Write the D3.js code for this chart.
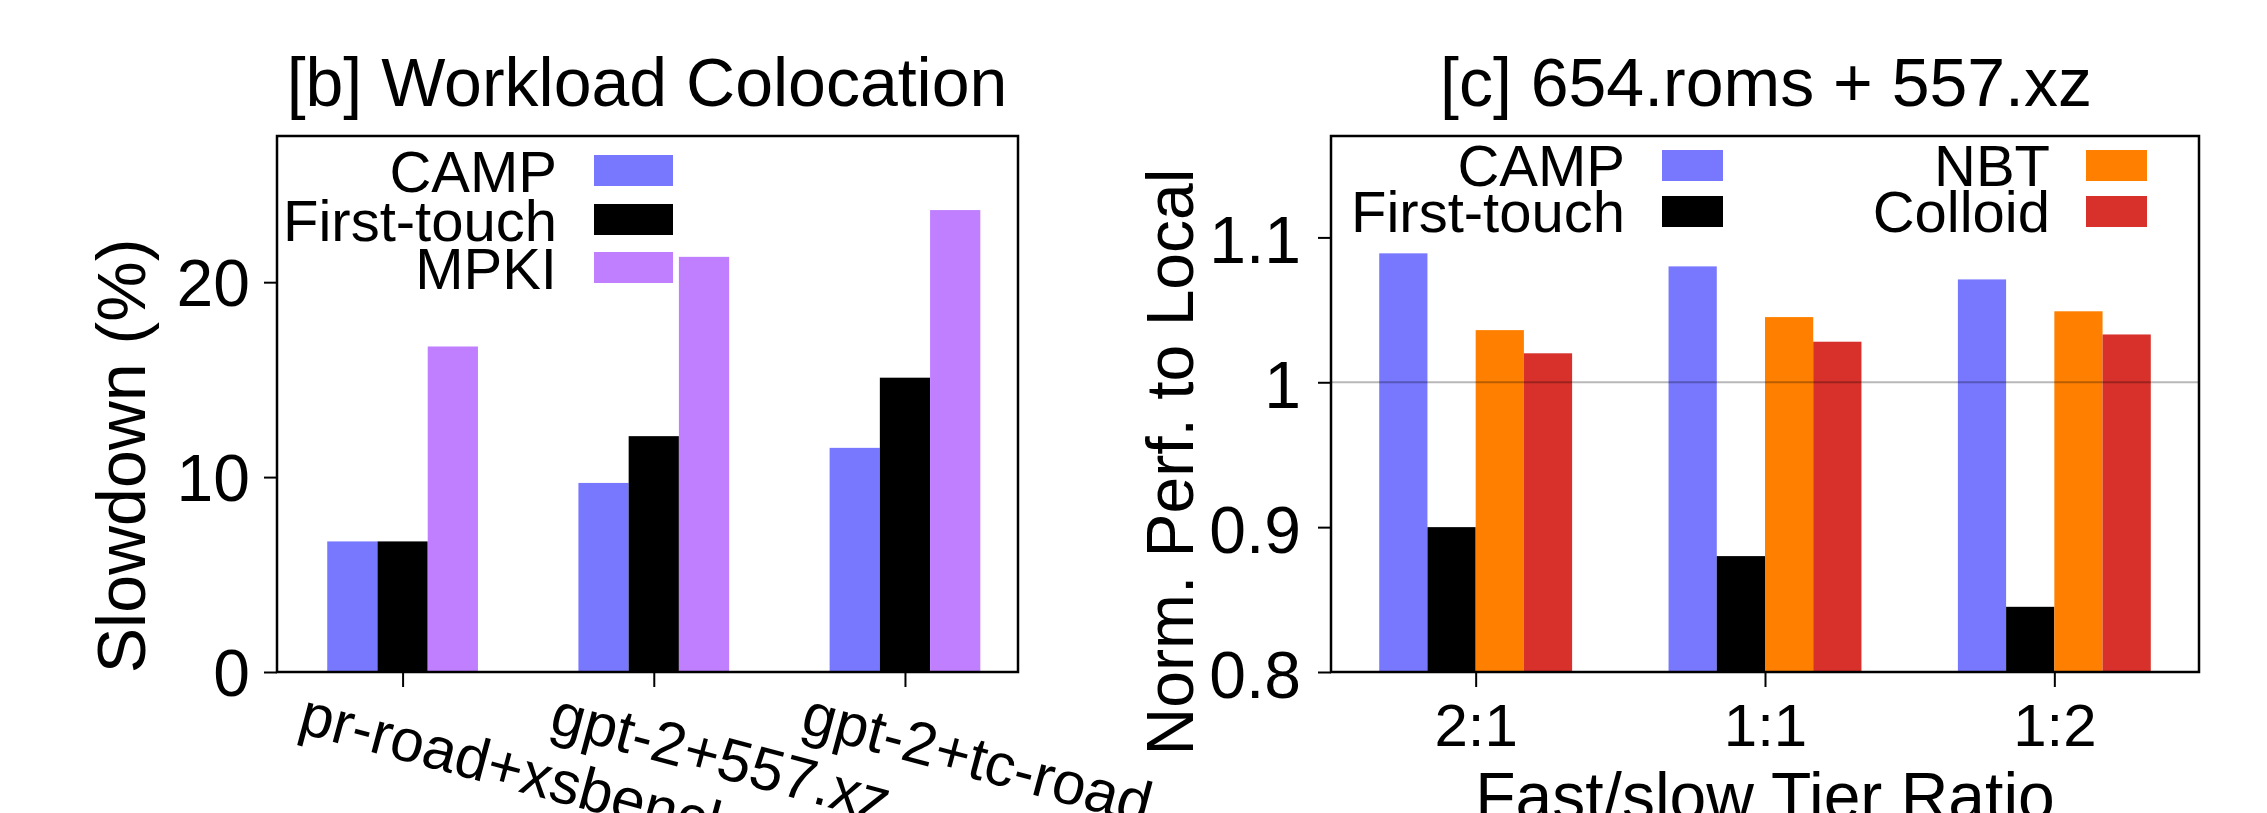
<!DOCTYPE html>
<html>
<head>
<meta charset="utf-8">
<script src="https://cdn.jsdelivr.net/npm/d3@7"></script>
<style>
  html, body { margin: 0; padding: 0; background: #fff; }
  svg { display: block; }
  text { font-family: "Liberation Sans", Arial, Helvetica, sans-serif; fill: #000; }
</style>
</head>
<body>
<script>
// ---------- data: panel [b] ----------
const colocCategories = ["pr-road+xsbench", "gpt-2+557.xz", "gpt-2+tc-road"];
const colocSeries = ["CAMP", "First-touch", "MPKI"];
const campSlowdown = [6.7, 9.7, 11.5];
const firstTouchSlowdown = [6.7, 12.1, 15.1];
const mpkiSlowdown = [16.7, 21.3, 23.7];
const colocYTicks = [0, 10, 20];

// ---------- data: panel [c] ----------
const ratioCategories = ["2:1", "1:1", "1:2"];
const perfSeries = ["CAMP", "First-touch", "NBT", "Colloid"];
const campPerf = [1.089, 1.080, 1.071];
const firstTouchPerf = [0.900, 0.880, 0.845];
const nbtPerf = [1.036, 1.045, 1.049];
const colloidPerf = [1.020, 1.028, 1.033];
const perfYTicks = [0.8, 0.9, 1.0, 1.1];
const perfYTickLabels = ["0.8", "0.9", "1", "1.1"];

const colors = {
  "CAMP": "#7878ff",
  "First-touch": "#000000",
  "MPKI": "#bf7fff",
  "NBT": "#ff8000",
  "Colloid": "#d8302a"
};

const W = 2267, H = 813;
const svg = d3.select("body").append("svg").attr("width", W).attr("height", H);

// ================= Panel [b] =================
(function () {
  const L = 277, R = 1018, T = 136, B = 672;
  const values = [campSlowdown, firstTouchSlowdown, mpkiSlowdown];
  const x = d3.scaleLinear().domain([-0.5, 2.45]).range([L, R]);
  const y = d3.scaleLinear().domain([0, 27.5]).range([B, T]);
  const bw = 0.2;
  const g = svg.append("g");

  colocSeries.forEach((s, j) => {
    g.selectAll(null).data(values[j]).enter().append("rect")
      .attr("x", (d, i) => x(i + (j - 1.5) * bw))
      .attr("width", (d, i) => x(i + (j - 0.5) * bw) - x(i + (j - 1.5) * bw))
      .attr("y", d => y(d))
      .attr("height", d => y(0) - y(d))
      .attr("fill", colors[s]);
  });

  // y axis
  const ya = g.append("g").attr("transform", `translate(${L},0)`)
    .call(d3.axisLeft(y).tickValues(colocYTicks).tickSize(13).tickPadding(14).tickFormat(d3.format("d")));
  ya.select(".domain").remove();
  ya.selectAll(".tick line").attr("stroke", "#000").attr("stroke-width", 2);
  ya.selectAll(".tick text").attr("font-size", 66).attr("dy", "0.36em")
    .style("font-family", "'Liberation Sans', Arial, sans-serif");

  // x axis ticks
  const xa = g.append("g").attr("transform", `translate(0,${B})`)
    .call(d3.axisBottom(x).tickValues([0, 1, 2]).tickSize(15).tickFormat(""));
  xa.select(".domain").remove();
  xa.selectAll(".tick line").attr("stroke", "#000").attr("stroke-width", 2);

  // rotated x labels
  g.selectAll(null).data(colocCategories).enter().append("text")
    .attr("transform", (d, i) => `translate(${x(i) - 106},732) rotate(15)`)
    .attr("font-size", 60)
    .attr("text-anchor", "start")
    .text(d => d);

  // frame
  g.append("rect").attr("x", L).attr("y", T).attr("width", R - L).attr("height", B - T)
    .attr("fill", "none").attr("stroke", "#000").attr("stroke-width", 2.5);

  // title
  g.append("text").attr("x", 647).attr("y", 106).attr("text-anchor", "middle")
    .attr("font-size", 68).text("[b] Workload Colocation");

  // y label
  g.append("text").attr("transform", "translate(145,456) rotate(-90)")
    .attr("text-anchor", "middle").attr("font-size", 68).text("Slowdown (%)");

  // legend
  const rowsY = [155, 204, 252];
  colocSeries.forEach((s, j) => {
    g.append("rect").attr("x", 594).attr("y", rowsY[j]).attr("width", 79).attr("height", 31)
      .attr("fill", colors[s]);
    g.append("text").attr("x", 557).attr("y", rowsY[j] + 37).attr("text-anchor", "end")
      .attr("font-size", 58).text(s);
  });
})();

// ================= Panel [c] =================
(function () {
  const L = 1331, R = 2199, T = 136, B = 672;
  const values = [campPerf, firstTouchPerf, nbtPerf, colloidPerf];
  const x = d3.scaleLinear().domain([-0.5, 2.5]).range([L, R]);
  const y = d3.scaleLinear().domain([0.8, 1.17]).range([B, T]);
  const bw = 1 / 6;
  const g = svg.append("g");

  perfSeries.forEach((s, j) => {
    g.selectAll(null).data(values[j]).enter().append("rect")
      .attr("x", (d, i) => x(i + (j - 2) * bw))
      .attr("width", (d, i) => x(i + (j - 1) * bw) - x(i + (j - 2) * bw))
      .attr("y", d => y(d))
      .attr("height", d => y(0.8) - y(d))
      .attr("fill", colors[s]);
  });

  // reference line at 1
  g.append("line").attr("x1", L).attr("x2", R).attr("y1", y(1)).attr("y2", y(1))
    .attr("stroke", "rgba(0,0,0,0.28)").attr("stroke-width", 2);

  // y axis
  const ya = g.append("g").attr("transform", `translate(${L},0)`)
    .call(d3.axisLeft(y).tickValues(perfYTicks).tickSize(13).tickPadding(17)
      .tickFormat((d, i) => perfYTickLabels[i]));
  ya.select(".domain").remove();
  ya.selectAll(".tick line").attr("stroke", "#000").attr("stroke-width", 2);
  ya.selectAll(".tick text").attr("font-size", 66).attr("dy", "0.38em")
    .style("font-family", "'Liberation Sans', Arial, sans-serif");

  // x axis
  const xa = g.append("g").attr("transform", `translate(0,${B})`)
    .call(d3.axisBottom(x).tickValues([0, 1, 2]).tickSize(15).tickPadding(16)
      .tickFormat((d, i) => ratioCategories[i]));
  xa.select(".domain").remove();
  xa.selectAll(".tick line").attr("stroke", "#000").attr("stroke-width", 2);
  xa.selectAll(".tick text").attr("font-size", 60)
    .style("font-family", "'Liberation Sans', Arial, sans-serif");

  // frame
  g.append("rect").attr("x", L).attr("y", T).attr("width", R - L).attr("height", B - T)
    .attr("fill", "none").attr("stroke", "#000").attr("stroke-width", 2.5);

  // title
  g.append("text").attr("x", 1766).attr("y", 106).attr("text-anchor", "middle")
    .attr("font-size", 68).text("[c] 654.roms + 557.xz");

  // y label
  g.append("text").attr("transform", "translate(1193,462) rotate(-90)")
    .attr("text-anchor", "middle").attr("font-size", 66).text("Norm. Perf. to Local");

  // x label
  g.append("text").attr("x", 1765).attr("y", 819).attr("text-anchor", "middle")
    .attr("font-size", 66).text("Fast/slow Tier Ratio");

  // legend (2 columns)
  const legendPos = [
    { tx: 1625, sx: 1662, y: 150 },
    { tx: 1625, sx: 1662, y: 196 },
    { tx: 2050, sx: 2086, y: 150 },
    { tx: 2050, sx: 2086, y: 196 }
  ];
  perfSeries.forEach((s, j) => {
    const p = legendPos[j];
    g.append("rect").attr("x", p.sx).attr("y", p.y).attr("width", 61).attr("height", 31)
      .attr("fill", colors[s]);
    g.append("text").attr("x", p.tx).attr("y", p.y + 36).attr("text-anchor", "end")
      .attr("font-size", 58).text(s);
  });
})();
</script>
</body>
</html>
